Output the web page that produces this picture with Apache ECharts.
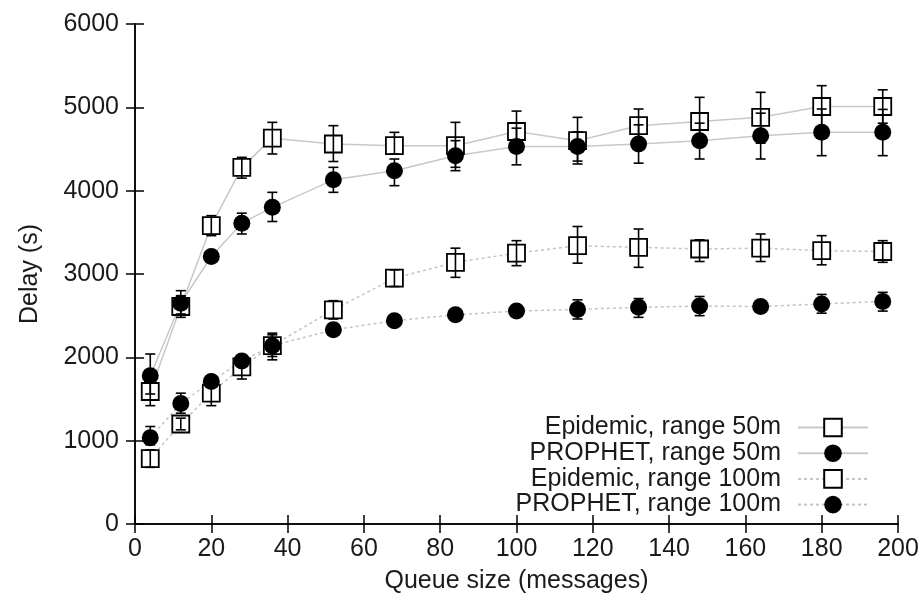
<!DOCTYPE html>
<html>
<head>
<meta charset="utf-8">
<script src="https://cdn.jsdelivr.net/npm/echarts@6/dist/echarts.min.js"></script>
<style>
html,body{margin:0;padding:0;background:#fff;}
#chart{width:924px;height:604px;}
</style>
</head>
<body>
<div id="chart"></div>
<script>
const queueSizes = [4, 12, 20, 28, 36, 52, 68, 84, 100, 116, 132, 148, 164, 180, 196];

const epi50   = [1590, 2610, 3580, 4280, 4630, 4560, 4540, 4540, 4710, 4600, 4780, 4830, 4880, 5010, 5010];
const epi50Lo = [1420, 2480, 3460, 4150, 4440, 4350, 4440, 4280, 4465, 4320, 4580, 4540, 4570, 4760, 4810];
const epi50Hi = [1760, 2740, 3700, 4400, 4820, 4780, 4700, 4820, 4955, 4880, 4980, 5120, 5180, 5260, 5210];

const pro50   = [1780, 2650, 3210, 3610, 3800, 4130, 4240, 4420, 4530, 4530, 4560, 4600, 4660, 4700, 4700];
const pro50Lo = [1560, 2520, 3170, 3480, 3630, 3980, 4060, 4240, 4310, 4355, 4330, 4380, 4380, 4420, 4420];
const pro50Hi = [2040, 2800, 3250, 3730, 3980, 4280, 4380, 4600, 4750, 4705, 4790, 4810, 4930, 4980, 4975];

const epi100   = [785, 1200, 1570, 1885, 2140, 2570, 2950, 3140, 3250, 3340, 3320, 3300, 3310, 3280, 3270];
const epi100Lo = [680, 1130, 1420, 1740, 1970, 2460, 2850, 2960, 3100, 3130, 3080, 3150, 3150, 3110, 3140];
const epi100Hi = [890, 1270, 1710, 2030, 2290, 2680, 3050, 3310, 3400, 3570, 3540, 3410, 3480, 3460, 3400];

const pro100   = [1035, 1445, 1710, 1955, 2140, 2330, 2440, 2510, 2555, 2575, 2600, 2615, 2610, 2640, 2670];
const pro100Lo = [950, 1330, 1670, 1915, 2010, 2300, 2410, 2480, 2525, 2460, 2480, 2500, 2575, 2530, 2555];
const pro100Hi = [1170, 1570, 1750, 1995, 2270, 2360, 2470, 2540, 2585, 2690, 2705, 2730, 2645, 2755, 2780];

const seriesNames = ['Epidemic, range 50m', 'PROPHET, range 50m', 'Epidemic, range 100m', 'PROPHET, range 100m'];
const xLabel = 'Queue size (messages)';
const yLabel = 'Delay (s)';

const FONT = 'Liberation Sans, Arial, sans-serif';
const TXT = '#1a1a1a';

function pairs(ys) { return queueSizes.map((x, i) => [x, ys[i]]); }
function triples(lo, hi) { return queueSizes.map((x, i) => [x, lo[i], hi[i]]); }

function errRender(params, api) {
  const x = api.value(0), lo = api.value(1), hi = api.value(2);
  const a = api.coord([x, lo]), b = api.coord([x, hi]);
  const hw = 5;
  const st = { stroke: '#000', lineWidth: 1.6, fill: null };
  return {
    type: 'group',
    children: [
      { type: 'line', shape: { x1: a[0], y1: a[1], x2: b[0], y2: b[1] }, style: st },
      { type: 'line', shape: { x1: a[0] - hw, y1: a[1], x2: a[0] + hw, y2: a[1] }, style: st },
      { type: 'line', shape: { x1: b[0] - hw, y1: b[1], x2: b[0] + hw, y2: b[1] }, style: st }
    ]
  };
}

function lineSeries(name, ys, square, dotted) {
  return {
    name: name,
    type: 'line',
    data: pairs(ys),
    symbol: square ? 'rect' : 'circle',
    symbolSize: 17,
    showAllSymbol: true,
    z: 2,
    lineStyle: { color: dotted ? '#c4c4c4' : '#c8c8c8', width: 1.5, type: dotted ? [3, 3] : 'solid' },
    itemStyle: square ? { color: '#fff', borderColor: '#000', borderWidth: 1.8 } : { color: '#000', borderColor: '#000', borderWidth: 0 },
    emphasis: { disabled: true }
  };
}

function errSeries(lo, hi) {
  return {
    type: 'custom',
    renderItem: errRender,
    data: triples(lo, hi),
    encode: { x: 0, y: [1, 2] },
    z: 3,
    silent: true
  };
}

const axisCommon = {
  axisLine: { show: true, lineStyle: { color: '#000', width: 1.5 } },
  axisTick: { show: true, inside: true, length: 9, lineStyle: { color: '#000', width: 1.5 } },
  splitLine: { show: false }
};

const plain = v => String(v);

const chart = echarts.init(document.getElementById('chart'), null, { renderer: 'canvas' });
chart.setOption({
  animation: false,
  backgroundColor: '#fff',
  grid: { left: 135, right: 26, top: 24, bottom: 80, containLabel: false },
  legend: {
    data: seriesNames,
    orient: 'vertical',
    align: 'right',
    right: 50,
    top: 410,
    itemWidth: 70,
    itemHeight: 22,
    itemGap: 0.7,
    selectedMode: false,
    textStyle: { fontFamily: FONT, fontSize: 25, color: TXT, lineHeight: 25, padding: [0, 12, 0, 0] }
  },
  xAxis: [
    Object.assign({}, axisCommon, {
      type: 'value', min: 0, max: 200, interval: 20, position: 'bottom',
      name: xLabel, nameLocation: 'middle', nameGap: 45,
      nameTextStyle: { fontFamily: FONT, fontSize: 25, color: TXT },
      axisLabel: { fontFamily: FONT, fontSize: 25, color: TXT, margin: 13, formatter: plain }
    }),
    Object.assign({}, axisCommon, {
      type: 'value', min: 0, max: 200, interval: 20, position: 'top',
      axisLabel: { show: false }
    })
  ],
  yAxis: [
    Object.assign({}, axisCommon, {
      type: 'value', min: 0, max: 6000, interval: 1000, position: 'left',
      name: yLabel, nameLocation: 'middle', nameGap: 92,
      nameTextStyle: { fontFamily: FONT, fontSize: 25, color: TXT },
      axisLabel: { fontFamily: FONT, fontSize: 25, color: TXT, margin: 16, formatter: plain }
    }),
    Object.assign({}, axisCommon, {
      type: 'value', min: 0, max: 6000, interval: 1000, position: 'right',
      axisLabel: { show: false }
    })
  ],
  series: [
    lineSeries(seriesNames[0], epi50, true, false),
    lineSeries(seriesNames[1], pro50, false, false),
    lineSeries(seriesNames[2], epi100, true, true),
    lineSeries(seriesNames[3], pro100, false, true),
    errSeries(epi50Lo, epi50Hi),
    errSeries(pro50Lo, pro50Hi),
    errSeries(epi100Lo, epi100Hi),
    errSeries(pro100Lo, pro100Hi)
  ]
});
</script>
</body>
</html>
